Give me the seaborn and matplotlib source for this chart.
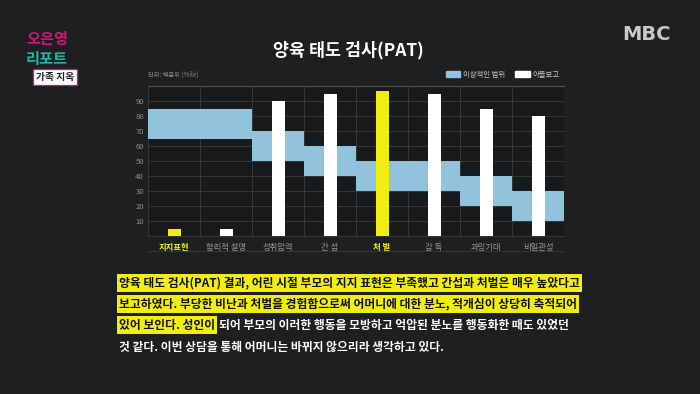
import pandas as pd
import seaborn as sns
import matplotlib.pyplot as plt
from matplotlib.patches import Patch
from matplotlib.lines import Line2D

# data
categories = ['지지표현', '합리적 설명', '성취압력', '간 섭', '처 벌', '감 독', '과잉기대', '비일관성']
ideal_low = [65, 65, 50, 40, 30, 30, 20, 10]
ideal_high = [85, 85, 70, 60, 50, 50, 40, 30]
son_report = [5, 5, 90, 95, 97, 95, 85, 80]
highlighted = ['지지표현', '처 벌']
y_ticks = [10, 20, 30, 40, 50, 60, 70, 80, 90]

body_lines = [
    '양육 태도 검사(PAT) 결과, 어린 시절 부모의 지지 표현은 부족했고 간섭과 처벌은 매우 높았다고',
    '보고하였다. 부당한 비난과 처벌을 경험함으로써 어머니에 대한 분노, 적개심이 상당히 축적되어',
    '있어 보인다. 성인이',
    '되어 부모의 이러한 행동을 모방하고 억압된 분노를 행동화한 때도 있었던',
    '것 같다. 이번 상담을 통해 어머니는 바뀌지 않으리라 생각하고 있다.',
]

BG = '#1e1f21'
PANEL = '#18191a'
BLUE = '#93c2dd'
YELLOW = '#f2ee12'
GRID = '#333538'
W, H = 700, 394

sns.set_style('dark')
plt.rcParams['font.family'] = ['Noto Sans CJK KR', 'DejaVu Sans']

fig = plt.figure(figsize=(7, 3.94), dpi=100)
fig.patch.set_facecolor(BG)
ax = fig.add_axes([148 / W, 1 - 236 / H, 416 / W, 150 / H])
ax.set_facecolor(PANEL)

df = pd.DataFrame({'category': categories, 'low': ideal_low,
                   'high': ideal_high, 'son': son_report})
bar_colors = [YELLOW if c in highlighted else 'white' for c in categories]

# son's report bars
sns.barplot(data=df, x='category', y='son', hue='category', palette=bar_colors,
            width=0.25, legend=False, ax=ax, zorder=3, linewidth=0, saturation=1)
# ideal range as floating bars on seaborn's category positions
ax.bar(range(len(df)), df['high'] - df['low'], bottom=df['low'], width=1.0,
       color=BLUE, linewidth=0, zorder=2)

ax.set_xlim(-0.5, len(categories) - 0.5)
ax.set_ylim(0, 100)
ax.set_xlabel('')
ax.set_ylabel('')

ax.set_yticks(y_ticks)
ax.set_yticklabels([str(v) for v in y_ticks])
ax.tick_params(axis='y', length=0, pad=3, labelsize=5.5, labelcolor='#8e8e8e')
ax.yaxis.grid(True, color=GRID, lw=0.8, zorder=0)

ax.set_xticks(range(len(categories)))
ax.set_xticklabels(categories)
ax.set_xticks([i - 0.5 for i in range(len(categories) + 1)], minor=True)
ax.xaxis.grid(True, which='minor', color=GRID, lw=0.8, zorder=0)
ax.xaxis.grid(False, which='major')
ax.tick_params(axis='x', which='major', length=0, pad=5, labelsize=6)
ax.tick_params(axis='x', which='minor', length=11, width=0.8, color=GRID, direction='out')
for lab in ax.get_xticklabels():
    if lab.get_text() in highlighted:
        lab.set_color(YELLOW)
        lab.set_fontweight('bold')
    else:
        lab.set_color('#9a9a9a')

for s in ['left', 'right']:
    ax.spines[s].set_visible(False)
ax.spines['bottom'].set_color(GRID)
ax.spines['bottom'].set_linewidth(0.8)
ax.spines['top'].set_color('#4d4f52')
ax.spines['top'].set_linewidth(0.9)

# line under the category labels
fig.add_artist(Line2D([148 / W, 563 / W], [1 - 251 / H] * 2, color=GRID, lw=0.8))

# header inside the chart panel
fig.text(148 / W, 1 - 75 / H, '단위: 백분위 (%ile)', fontsize=4.5, color='#8a8a8a', va='center')
handles = [Patch(color=BLUE, label='이상적인 범위'), Patch(color='white', label='아들보고')]
ax.legend(handles=handles, loc='lower right', bbox_to_anchor=(1.0, 1.02), ncol=2,
          frameon=False, fontsize=5.3, labelcolor='#c8c8c8', handlelength=2.0,
          handleheight=1.0, columnspacing=1.3, handletextpad=0.4, borderaxespad=0.2)

# title
fig.text(348 / W, 1 - 50 / H, '양육 태도 검사(PAT)', fontsize=12.5, color='white',
         fontweight='bold', ha='center', va='center')

# channel marks
fig.text(47 / W, 1 - 39 / H, '오은영', fontsize=11, color='#d4147a', fontweight='bold',
         ha='center', va='center')
fig.text(47 / W, 1 - 59 / H, '리포트', fontsize=11, color='#1fb5a5', fontweight='bold',
         ha='center', va='center')
fig.text(55 / W, 1 - 77 / H, '가족 지옥', fontsize=7, color='#222222', fontweight='bold',
         ha='center', va='center',
         bbox=dict(boxstyle='square,pad=0.3', fc='white', ec='#d4147a', lw=0.9))
fig.text(646 / W, 1 - 34 / H, 'MBC', fontsize=14, color='#c9c9c9', fontweight='heavy',
         family='DejaVu Sans', ha='center', va='center')

# body text, font size fitted to the first line's width
renderer = fig.canvas.get_renderer()
probe = fig.text(0, 0, body_lines[0], fontsize=8, fontweight='bold')
fs = 8 * 462 / probe.get_window_extent(renderer).width
probe.remove()

x0 = 119 / W
hl = dict(boxstyle='square,pad=0.2', fc=YELLOW, ec='none')
ys = [283, 304, 325, 347]
fig.text(x0, 1 - ys[0] / H, body_lines[0], fontsize=fs, fontweight='bold', color='#111111',
         va='center', bbox=hl)
fig.text(x0, 1 - ys[1] / H, body_lines[1], fontsize=fs, fontweight='bold', color='#111111',
         va='center', bbox=hl)
t3 = fig.text(x0, 1 - ys[2] / H, body_lines[2], fontsize=fs, fontweight='bold',
              color='#111111', va='center', bbox=hl)
fig.canvas.draw()
x_end = t3.get_bbox_patch().get_window_extent(renderer).x1
fig.text(x_end / W + 2 / W, 1 - ys[2] / H, body_lines[3], fontsize=fs, fontweight='bold',
         color='white', va='center')
fig.text(x0, 1 - ys[3] / H, body_lines[4], fontsize=fs, fontweight='bold', color='white',
         va='center')

fig.savefig('out.png', dpi=100, facecolor=BG)
